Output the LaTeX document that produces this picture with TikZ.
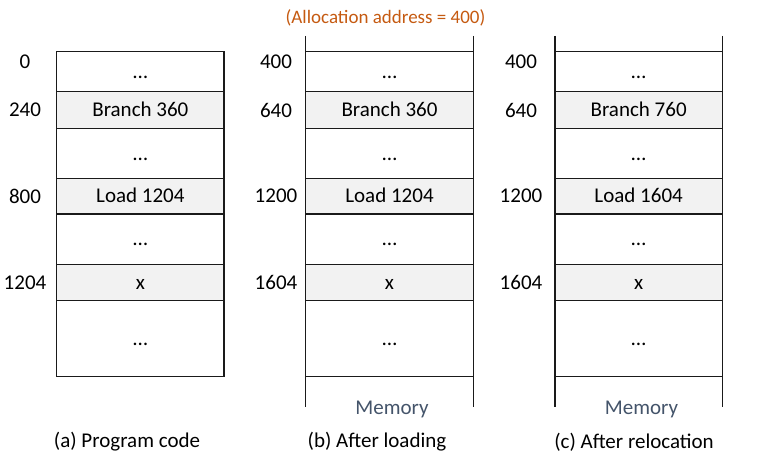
\documentclass[tikz,border=0pt]{standalone}
\usepackage{fontspec}
\setmainfont{Carlito}
\definecolor{cellgray}{HTML}{F2F2F2}
\definecolor{linecol}{HTML}{1A1A1A}
\definecolor{orangetxt}{HTML}{C55A11}
\definecolor{memcol}{HTML}{44546A}
\begin{document}
\begin{tikzpicture}[x=1pt,y=-1pt,
  cell/.style={draw=linecol, line width=1.1pt, fill=white, minimum width=167.3pt,
    inner sep=0pt, outer sep=0pt, text height=13.5pt, text depth=0pt,
    font=\fontsize{21}{25}\selectfont},
  shaded/.style={cell, fill=cellgray},
  addr/.style={inner sep=0pt, font=\fontsize{21}{25}\selectfont},
  caption/.style={inner sep=0pt, font=\fontsize{21}{25}\selectfont},
  memlbl/.style={inner sep=0pt, text=memcol, font=\fontsize{21}{25}\selectfont},
  note/.style={inner sep=0pt, text=orangetxt, font=\fontsize{19}{23}\selectfont},
  ext/.style={draw=linecol, line width=1.1pt}]
\useasboundingbox (0,0) rectangle (766,457);

% ---------- column (a) ----------
\node[cell,   minimum height=40pt]   (a1) at (140.35,71.7)  {…};
\node[shaded, minimum height=36.6pt] (a2) at (140.35,110)   {Branch 360};
\node[cell,   minimum height=50pt]   (a3) at (140.35,153.3) {…};
\node[shaded, minimum height=35.7pt] (a4) at (140.35,196.15){Load 1204};
\node[cell,   minimum height=50.3pt] (a5) at (140.35,239.15){…};
\node[shaded, minimum height=36.4pt] (a6) at (140.35,282.5) {x};
\node[cell,   minimum height=76pt]   (a7) at (140.35,338.7) {…};

\node[addr] (la1) at (25,61.7)  {0};
\node[addr] (la2) at (25,110)   {240};
\node[addr] (la3) at (25,196)   {800};
\node[addr] (la4) at (25,282.5) {1204};
\node[caption] (capa) at (127,442) {(a) Program code};

% ---------- column (b) ----------
\coordinate (bTL) at (305.7,36);  \coordinate (bBL) at (305.7,407);
\coordinate (bTR) at (473.3,36);  \coordinate (bBR) at (473.3,407);
\node[cell,   minimum height=40pt]   (b1) at (389.5,71.7)  {…};
\node[shaded, minimum height=36.6pt] (b2) at (389.5,110)   {Branch 360};
\node[cell,   minimum height=50pt]   (b3) at (389.5,153.3) {…};
\node[shaded, minimum height=35.7pt] (b4) at (389.5,196.15){Load 1204};
\node[cell,   minimum height=50.3pt] (b5) at (389.5,239.15){…};
\node[shaded, minimum height=36.4pt] (b6) at (389.5,282.5) {x};
\node[cell,   minimum height=76pt]   (b7) at (389.5,338.7) {…};
\draw[ext] (bTL) -- (bBL);
\draw[ext] (bTR) -- (bBR);

\node[addr] (lb1) at (276,61.7)  {400};
\node[addr] (lb2) at (276,110)   {640};
\node[addr] (lb3) at (276,196)   {1200};
\node[addr] (lb4) at (276,282.5) {1604};
\node[memlbl] (memb) at (392,409) {Memory};
\node[caption] (capb) at (377,442) {(b) After loading};

% ---------- column (c) ----------
\coordinate (cTL) at (555,36);    \coordinate (cBL) at (555,407);
\coordinate (cTR) at (722.3,36);  \coordinate (cBR) at (722.3,407);
\node[cell,   minimum height=40pt]   (c1) at (638.65,71.7)  {…};
\node[shaded, minimum height=36.6pt] (c2) at (638.65,110)   {Branch 760};
\node[cell,   minimum height=50pt]   (c3) at (638.65,153.3) {…};
\node[shaded, minimum height=35.7pt] (c4) at (638.65,196.15){Load 1604};
\node[cell,   minimum height=50.3pt] (c5) at (638.65,239.15){…};
\node[shaded, minimum height=36.4pt] (c6) at (638.65,282.5) {x};
\node[cell,   minimum height=76pt]   (c7) at (638.65,338.7) {…};
\draw[ext] (cTL) -- (cBL);
\draw[ext] (cTR) -- (cBR);

\node[addr] (lc1) at (521,61.7)  {400};
\node[addr] (lc2) at (521,110)   {640};
\node[addr] (lc3) at (521,196)   {1200};
\node[addr] (lc4) at (521,282.5) {1604};
\node[memlbl] (memc) at (641.5,409) {Memory};
\node[caption] (capc) at (634,442) {(c) After relocation};

% ---------- note ----------
\node[note] (alloc) at (385.5,18) {(Allocation address = 400)};
\end{tikzpicture}
\end{document}
